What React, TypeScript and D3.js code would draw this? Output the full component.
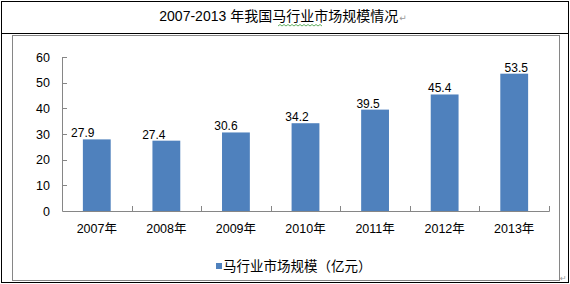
import React from "react";
import * as d3 from "d3";

const title = "2007-2013 年我国马行业市场规模情况";
const categories = ["2007年", "2008年", "2009年", "2010年", "2011年", "2012年", "2013年"];
const values = [27.9, 27.4, 30.6, 34.2, 39.5, 45.4, 53.5];
const yTicks = [0, 10, 20, 30, 40, 50, 60];
const seriesName = "马行业市场规模（亿元）";
// horizontal nudges of the value labels, as placed in the original
const labelNudge = [-14, -12.5, -10, -8.5, -7, -5, 2];

const W = 570;
const H = 284;
const FONT = "'Liberation Sans', Arial, 'Noto Sans CJK SC', sans-serif";
const BAR = "#4f81bd";
const AXIS = "#868686";

export default function App() {
  const x = d3.scaleBand<string>().domain(categories).range([62, 549]).paddingInner(0.6).paddingOuter(0.3);
  const y = d3.scaleLinear().domain([0, 60]).range([211, 57]);
  const step = x.step();

  // wavy underline
  const wave: [number, number][] = [];
  for (let i = 0; i <= 22; i++) wave.push([278 + i * 2, 26 + (i % 2 === 0 ? 0 : -1.5)]);
  const wavePath = d3.line()(wave) || "";

  return (
    <svg width={W} height={H} style={{ position: "absolute", left: 0, top: 0, background: "#fff" }} fontFamily={FONT}>
      <rect x={0} y={0} width={W} height={H} fill="#fff" />
      {/* outer frame */}
      <rect x={1.5} y={1.5} width={567} height={281} fill="none" stroke="#000" strokeWidth={1} />
      <line x1={1.5} x2={568.5} y1={33.5} y2={33.5} stroke="#000" />
      {/* title */}
      <text x={283} y={21} textAnchor="middle" fontSize={14} fill="#000">
        {title}
        <tspan fontSize={9} fill="#999" fontFamily="'DejaVu Sans'" dx={1}>↵</tspan>
      </text>
      <path d={wavePath} fill="none" stroke="#3a9a3a" strokeWidth={0.8} />
      {/* chart area frame */}
      <rect x={12.5} y={35.5} width={547} height={245} fill="#fff" stroke={AXIS} strokeWidth={1} />
      {/* bars */}
      {values.map((v, i) => (
        <rect key={i} x={x(categories[i])} y={y(v)} width={x.bandwidth()} height={y(0) - y(v)} fill={BAR} />
      ))}
      {/* value labels */}
      {values.map((v, i) => (
        <text key={i} x={(x(categories[i]) as number) + x.bandwidth() / 2 + labelNudge[i]} y={y(v) - 2} textAnchor="middle" fontSize={12} fill="#000">
          {v.toFixed(1)}
        </text>
      ))}
      {/* y axis */}
      <line x1={62.5} x2={62.5} y1={y(60)} y2={y(0)} stroke={AXIS} />
      {yTicks.map((t) => (
        <g key={t}>
          <line x1={62.5} x2={67} y1={Math.round(y(t)) + 0.5} y2={Math.round(y(t)) + 0.5} stroke={AXIS} />
          <text x={50} y={y(t) + 4.5} textAnchor="end" fontSize={12.5} fill="#000">{t}</text>
        </g>
      ))}
      {/* x axis */}
      <line x1={62.5} x2={549.5} y1={211.5} y2={211.5} stroke={AXIS} />
      {categories.map((c, i) => (
        <g key={c}>
          <line x1={Math.round(62 + step * (i + 1)) + 0.5} x2={Math.round(62 + step * (i + 1)) + 0.5} y1={206} y2={211.5} stroke={AXIS} />
          <text x={(x(c) as number) + x.bandwidth() / 2} y={233} textAnchor="middle" fontSize={12.5} fill="#000">{c}</text>
        </g>
      ))}
      {/* legend */}
      <rect x={216} y={263} width={6} height={6} fill={BAR} />
      <text x={223} y={271} fontSize={13.5} fill="#000">{seriesName}</text>
      <text x={560} y={281} fontSize={8} fill="#999" fontFamily="'DejaVu Sans'">↵</text>
    </svg>
  );
}
